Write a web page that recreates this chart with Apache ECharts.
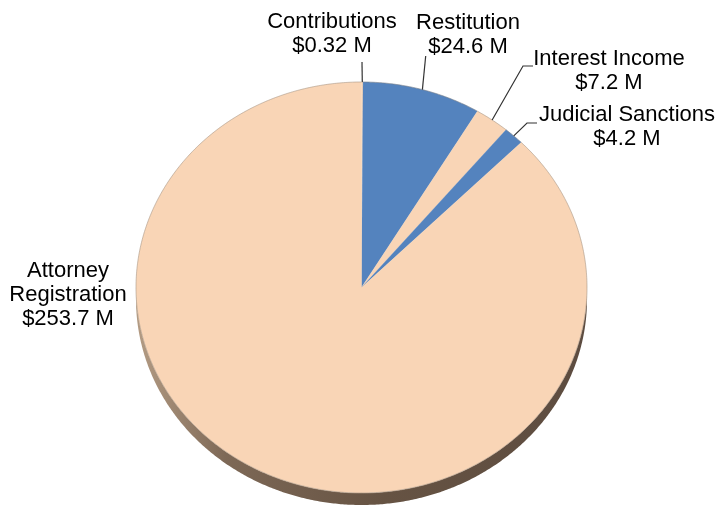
<!DOCTYPE html>
<html>
<head>
<meta charset="utf-8">
<script src="https://cdn.jsdelivr.net/npm/echarts@6/dist/echarts.min.js"></script>
<style>
  html, body { margin: 0; padding: 0; background: #fff; }
  #chart { width: 717px; height: 506px; }
</style>
</head>
<body>
<div id="chart"></div>
<script>
// Revenue sources, in millions of dollars
const categories = ['Contributions', 'Restitution', 'Interest Income', 'Judicial Sanctions', 'Attorney\nRegistration'];
const values = [0.32, 24.6, 7.2, 4.2, 253.7];

// Styling
const sliceColors = ['#F9D5B6', '#5483BE', '#F9D5B6', '#5483BE', '#F9D5B6'];
const FONT = '22px "Liberation Sans", Arial, sans-serif';

// Tilted-disc geometry (px)
const CX = 361.5, CY = 287.5, RX = 225.5, RY = 205.5, DEPTH = 12;

// Label placement: block centre and leader elbows
const labelLayout = [
  { x: 332, y: 33.5, leader: [[362, 62]] },
  { x: 468, y: 34.5, leader: [[425.7, 56]] },
  { x: 609, y: 70.5, leader: [[523, 66], [533, 66]] },
  { x: 627, y: 127, leader: [[527, 123], [537, 123]] },
  { x: 68, y: 295, leader: null }
];

const total = values.reduce((a, b) => a + b, 0);

function pt(t, dy) {
  return [CX + RX * Math.sin(t), CY - RY * Math.cos(t) + (dy || 0)];
}
function arc(t0, t1, dy) {
  const n = Math.max(2, Math.ceil((t1 - t0) / 0.008));
  const out = [];
  for (let k = 0; k <= n; k++) out.push(pt(t0 + (t1 - t0) * k / n, dy));
  return out;
}

function renderItem(params, api) {
  const i = params.dataIndex;
  const v = api.value(0);
  let before = 0;
  for (let k = 0; k < i; k++) before += values[k];
  const t0 = before / total * Math.PI * 2;
  const t1 = t0 + v / total * Math.PI * 2;
  const children = [];

  // side wall, visible on the lower half of the rim
  const s0 = Math.max(t0, Math.PI / 2), s1 = Math.min(t1, Math.PI * 3 / 2);
  if (s1 > s0) {
    const topEdge = arc(s0, s1, 0);
    const lowEdge = arc(s0, s1, DEPTH).reverse();
    children.push({
      type: 'polygon',
      shape: { points: topEdge.concat(lowEdge) },
      style: {
        fill: new echarts.graphic.LinearGradient(1, 0, 0, 0, [
          { offset: 0, color: '#5d4c40' },
          { offset: 0.45, color: '#665343' },
          { offset: 0.8, color: '#7d6856' },
          { offset: 1, color: '#b49c84' }
        ])
      }
    });
  }

  // top face
  const edge = arc(t0, t1, 0);
  children.push({
    type: 'polygon',
    shape: { points: [[CX, CY]].concat(edge) },
    style: { fill: sliceColors[i], stroke: sliceColors[i], lineWidth: 0.3 }
  });
  children.push({
    type: 'polyline',
    shape: { points: edge },
    style: { fill: null, stroke: 'rgba(140,128,118,0.55)', lineWidth: 0.8 }
  });

  // leader and label
  const lay = labelLayout[i];
  if (lay.leader) {
    const mid = pt((t0 + t1) / 2, 0);
    children.push({
      type: 'polyline',
      shape: { points: [mid].concat(lay.leader) },
      style: { fill: null, stroke: '#333', lineWidth: 1.2 }
    });
  }
  children.push({
    type: 'text',
    style: {
      text: categories[i] + '\n$' + v + ' M',
      x: lay.x, y: lay.y,
      align: 'center', verticalAlign: 'middle',
      font: FONT, lineHeight: 24, fill: '#000'
    }
  });

  return { type: 'group', children: children };
}

const chart = echarts.init(document.getElementById('chart'), null, { renderer: 'canvas' });
chart.setOption({
  animation: false,
  backgroundColor: '#fff',
  series: [{
    type: 'custom',
    coordinateSystem: 'none',
    silent: true,
    renderItem: renderItem,
    data: values.map((v, i) => ({ name: categories[i], value: [v, i] }))
  }]
});
</script>
</body>
</html>
